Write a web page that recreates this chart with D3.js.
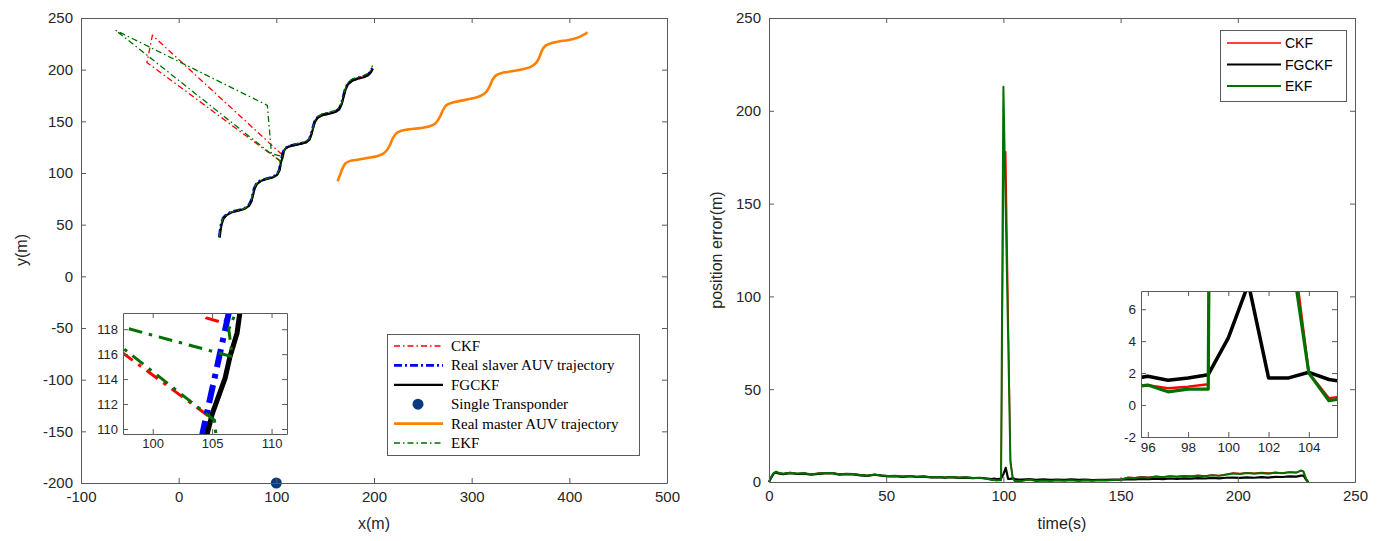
<!DOCTYPE html>
<html><head><meta charset="utf-8">
<script src="https://cdn.jsdelivr.net/npm/d3@7"></script>
<style>
body{margin:0;background:#fff;}
svg{display:block;}
</style></head>
<body>
<svg id="c" width="1391" height="541"></svg>
<script>
// ---------------- Left chart data (x(m), y(m)) ----------------
const realSlave = [[41.5,38],[42.3,44],[43.5,51],[45.5,56.5],[49,60],[54,62.5],[61,64],[67,65.5],[71.5,68.5],[74,73],[75.7,79],[77.2,85],[79.5,89.5],[83.5,92.5],[89.5,94.5],[96,96],[100.5,98.5],[103,103],[104.2,109.7],[105.3,114.5],[106.4,119.3],[108.2,123],[111.5,125.5],[117,127],[124,128.3],[130,129.8],[133.5,132.5],[135.6,137.5],[137.2,143.5],[139,149.5],[142,153.8],[147,156.3],[154,157.8],[160,159.3],[164,162],[166.5,167],[168.3,173.5],[170.2,180.5],[172.8,186],[177,189.5],[183,191.5],[189,193],[193.5,195],[196.5,198],[198.3,201.5]];
const fgckfPath = [[42,37.5],[42.8,44],[44,50.5],[46,56],[49.5,59.5],[54.5,62],[61,63.6],[67.5,65.2],[72,68.2],[74.6,72.8],[76.2,78.8],[77.8,85],[80,89.2],[84,92.2],[90,94.2],[96.5,95.8],[101,98.3],[103.4,102.8],[104.3,108.5],[105.0,111.2],[106.1,114.1],[106.5,115.8],[107.1,117.7],[107.5,120.5],[109,123.3],[112,125.2],[117.5,126.8],[124.5,128.2],[130.5,129.6],[134,132.3],[136,137.3],[137.6,143.3],[139.4,149.3],[142.5,153.5],[147.5,156],[154.5,157.5],[160.5,159],[164.5,161.7],[167,166.8],[168.8,173.3],[170.7,180.3],[173.3,185.8],[177.5,189.2],[183.5,191.2],[189.5,192.7],[194,194.6],[197,197.6],[198.8,201]];
const ckfPath = [[41.8,38.5],[42.6,44.5],[43.8,51],[45.8,56.3],[49.3,59.8],[54.3,62.3],[61,64],[67.3,65.6],[71.8,68.6],[74.3,73.2],[76,79],[77.5,85.2],[79.8,89.6],[83.8,92.6],[89.8,94.6],[96.3,96.2],[100.8,98.7],[103.3,103.2],[104.9,110.9],[-32.5,207],[-26.9,233.3],[104.5,118.9],[106.0,118.5],[106.4,119.3],[108.6,123.5],[111.8,125.9],[117.3,127.5],[124.3,128.9],[130.3,130.4],[133.8,133.2],[135.9,138.2],[137.5,144.2],[139.3,150.2],[142.3,154.5],[147.3,157],[154.3,158.6],[160.3,160.1],[164.3,162.8],[166.8,167.8],[168.6,174.3],[170.5,181.3],[173.1,186.8],[177.3,190.3],[183.3,192.3],[189.3,193.8],[193.8,195.8],[196.8,198.8],[198.6,202.3]];
const ekfPath = [[41.4,38.2],[42.2,44.2],[43.4,50.7],[45.4,56.2],[48.9,59.7],[54,62.3],[60.8,63.8],[66.8,65.3],[71.3,68.3],[73.9,72.9],[75.6,78.9],[77.1,85.1],[79.4,89.4],[83.3,92.4],[89.3,94.4],[95.8,96],[100.3,98.5],[102.9,102.9],[105.4,108.8],[105.2,110.7],[-64.5,238.1],[90.8,165.5],[95,118.8],[106.7,115.8],[106.4,118],[107.1,119.6],[108.8,123.6],[112,126.1],[117.5,127.7],[124.5,129.1],[130.5,130.7],[134,133.5],[136.1,138.6],[137.7,144.7],[139.5,150.7],[142.5,155],[147.5,157.5],[154.5,159],[160.5,160.6],[164.5,163.3],[167,168.3],[168.8,175],[170.7,182],[173.3,187.5],[177.5,191],[183.5,193],[189.5,194.5],[194,196.5],[197,199.5],[198.5,204]];
const realMaster = [[162.7,92],[165,97.5],[167.5,104],[170.9,109.4],[175,111.5],[179.1,112.3],[193,114.5],[203,116.3],[209,118.5],[213,121.8],[216.5,127.5],[219.5,134],[223,138.5],[228,140.8],[234,142],[248,143.6],[257,145.3],[263,148.2],[267,153.5],[270.5,160.5],[274,165.5],[280,168],[286,169.3],[300,172],[309,174.5],[314.5,178],[318.5,184],[321.5,190.5],[325,194.5],[331,196.8],[337,197.8],[352,200.5],[360,202.5],[366,206.5],[369.5,212.5],[372.5,219.5],[376,223.5],[382,225.8],[388,227],[403,229.5],[410,231.5],[415,233.8],[418.6,236.2]];
const transponder = [[100,-200]];
const leftXTicks = [-100,0,100,200,300,400,500];
const leftYTicks = [-200,-150,-100,-50,0,50,100,150,200,250];
const insetLXTicks = [100,105,110];
const insetLYTicks = [110,112,114,116,118];
const leftLegend = ["CKF","Real slaver AUV trajectory","FGCKF","Single Transponder","Real master AUV trajectory","EKF"];

// ---------------- Right chart data (time(s), error(m)) ----------------
const times = [0,1,2,3,4,6,9,12,15,18,21,24,27,30,33,36,39,42,45,48,51,54,57,60,63,66,69,72,75,78,81,84,87,90,93,95,96,97,98,99,100,101,102,103,104,105,106,108,111,114,117,120,123,126,129,132,135,138,141,144,147,150,153,156,159,162,165,168,171,174,177,180,183,186,189,192,195,198,201,204,207,210,213,216,219,222,225,227,228,229,230];
const ckfErr = [0,2.7,4.7,5.5,5.0,4.5,5.1,4.5,4.8,4.1,4.7,4.8,4.9,4.3,4.5,4.2,3.9,3.5,4.1,3.6,3.3,3.3,3.0,3.3,2.9,3.1,2.7,2.8,2.5,2.6,2.4,2.6,2.2,2.3,1.8,1.14,1.25,1.05,1.15,1.3,160,178,95,12,2.0,0.43,0.6,0.7,1.4,0.6,0.9,0.7,1.0,0.8,1.1,0.7,1.0,0.8,1.1,0.9,1.2,1.3,2.5,2.3,2.8,2.5,3.1,2.7,3.3,3.0,3.4,3.2,3.6,3.3,3.8,3.5,4.2,4.9,4.6,5.0,4.7,5.1,4.8,5.2,4.9,5.4,5.2,6.0,5.8,2.2,0];
const fgckfErr = [0,2.5,4.5,5.2,4.6,4.2,4.8,4.3,4.5,3.9,4.4,4.6,4.7,4.0,4.2,4.1,3.6,3.3,3.9,3.4,3.0,3.2,2.8,3.1,2.7,2.9,2.5,2.6,2.3,2.6,2.2,2.4,2.1,2.3,1.9,1.6,1.8,1.55,1.7,1.9,4.2,7.6,1.7,1.7,2.05,1.6,1.4,1.3,1.6,1.2,1.4,1.1,1.3,1.2,1.4,1.1,1.3,1.0,1.2,1.1,1.3,1.3,1.6,1.4,1.7,1.5,1.8,1.6,1.9,1.7,2.0,1.8,2.1,1.9,2.2,2.0,2.3,2.4,2.2,2.5,2.3,2.6,2.4,2.8,2.7,3.0,2.9,3.4,3.5,1.5,0];
const ekfErr = [0,2.8,4.8,5.6,5.0,4.4,5.0,4.6,4.7,4.2,4.6,4.9,4.8,4.2,4.4,4.3,3.8,3.4,4.0,3.5,3.2,3.4,2.9,3.2,2.8,3.0,2.6,2.7,2.4,2.7,2.3,2.5,2.1,2.2,1.7,1.1,1.25,0.83,1.0,1.0,213,146,79,10.6,2.0,0.27,0.5,0.6,1.3,0.5,0.8,0.6,0.9,0.7,1.0,0.6,0.9,0.7,1.0,0.8,1.1,1.2,2.3,2.1,2.6,2.3,2.9,2.5,3.1,2.8,3.2,3.0,3.4,3.1,3.6,3.3,3.9,4.6,4.3,4.8,4.4,4.9,4.5,5.0,4.7,5.2,5.0,6.2,5.6,2.0,0];
const rightXTicks = [0,50,100,150,200,250];
const rightYTicks = [0,50,100,150,200,250];
const insetRXTicks = [96,98,100,102,104];
const insetRYTicks = [-2,0,2,4,6];
const rightLegend = ["CKF","FGCKF","EKF"];

// ---------------- Styles ----------------
const C_RED = "#ff0000", C_BLUE = "#0000ff", C_BLACK = "#000000", C_GREEN = "#007000", C_ORANGE = "#ff8000", C_NAVY = "#0b3a7e";
const AXC = "#5a5a5a", TXC = "#262626";
const SANS = "'Liberation Sans', Arial, sans-serif";
const SERIF = "'Liberation Serif', 'Times New Roman', serif";

const svg = d3.select("#c");

function drawBox(g, x, y, xt, yt, fs, labels){
  const fmt = d => String(d);
  const tl = 5;
  const gx = g.append("g").attr("transform",`translate(0,${y.range()[0]})`)
    .call(d3.axisBottom(x).tickValues(xt).tickSizeInner(-tl).tickSizeOuter(0).tickPadding(labels.xpad).tickFormat(fmt));
  const gt = g.append("g").attr("transform",`translate(0,${y.range()[1]})`)
    .call(d3.axisTop(x).tickValues(xt).tickSizeInner(-tl).tickSizeOuter(0).tickFormat(""));
  const gy = g.append("g").attr("transform",`translate(${x.range()[0]},0)`)
    .call(d3.axisLeft(y).tickValues(yt).tickSizeInner(-tl).tickSizeOuter(0).tickPadding(labels.ypad).tickFormat(fmt));
  const gr = g.append("g").attr("transform",`translate(${x.range()[1]},0)`)
    .call(d3.axisRight(y).tickValues(yt).tickSizeInner(-tl).tickSizeOuter(0).tickFormat(""));
  [gx,gt,gy,gr].forEach(a=>{
    a.selectAll("path.domain").attr("stroke",AXC).attr("stroke-width",1);
    a.selectAll(".tick line").attr("stroke",AXC).attr("stroke-width",1);
    a.selectAll(".tick text").attr("fill",TXC).style("font-family",SANS).style("font-size",fs+"px");
  });
}

// ================= LEFT CHART =================
const lx = d3.scaleLinear().domain([-100,500]).range([81,667]);
const ly = d3.scaleLinear().domain([-200,250]).range([483,18]);
const L = svg.append("g");
L.append("rect").attr("x",81).attr("y",18).attr("width",586).attr("height",465).attr("fill","#fff");

function drawTraj(g, x, y, scaleW){
  const line = d3.line().x(d=>x(d[0])).y(d=>y(d[1]));
  const smooth = d3.line().x(d=>x(d[0])).y(d=>y(d[1])).curve(d3.curveCatmullRom.alpha(0.5));
  g.append("path").datum(ckfPath).attr("d",line).attr("fill","none").attr("stroke",C_RED)
    .attr("stroke-width",1.3*scaleW).attr("stroke-dasharray",`${6*scaleW},${3*scaleW},${1.5*scaleW},${3*scaleW}`);
  g.append("path").datum(realSlave).attr("d",line).attr("fill","none").attr("stroke",C_BLUE)
    .attr("stroke-width",2.6*scaleW).attr("stroke-dasharray",`${8*scaleW},${3*scaleW},${2*scaleW},${3*scaleW}`);
  g.append("path").datum(fgckfPath).attr("d",line).attr("fill","none").attr("stroke",C_BLACK)
    .attr("stroke-width",2.2*scaleW).attr("stroke-linejoin","round");
  g.selectAll(null).data(transponder).enter().append("circle")
    .attr("cx",d=>x(d[0])).attr("cy",d=>y(d[1])).attr("r",5.5).attr("fill",C_NAVY);
  g.append("path").datum(realMaster).attr("d",smooth).attr("fill","none").attr("stroke",C_ORANGE)
    .attr("stroke-width",2.6*scaleW);
  g.append("path").datum(ekfPath).attr("d",line).attr("fill","none").attr("stroke",C_GREEN)
    .attr("stroke-width",1.3*scaleW).attr("stroke-dasharray",`${6*scaleW},${3*scaleW},${1.5*scaleW},${3*scaleW}`);
}
drawTraj(L, lx, ly, 1);
drawBox(L, lx, ly, leftXTicks, leftYTicks, 15, {xpad:8, ypad:8});
L.append("text").attr("x",374).attr("y",529).attr("text-anchor","middle").attr("fill",TXC)
  .style("font-family",SANS).style("font-size","16px").text("x(m)");
L.append("text").attr("transform","translate(27,250) rotate(-90)").attr("text-anchor","middle").attr("fill",TXC)
  .style("font-family",SANS).style("font-size","16px").text("y(m)");

// left inset
const ilx = d3.scaleLinear().domain([97.5,111.3]).range([123,287]);
const ily = d3.scaleLinear().domain([109.6,119.3]).range([434,313]);
const LI = svg.append("g");
LI.append("rect").attr("x",123).attr("y",313).attr("width",164).attr("height",121).attr("fill","#fff");
svg.append("defs").append("clipPath").attr("id","clipL").append("rect")
  .attr("x",123).attr("y",313).attr("width",164).attr("height",121);
const LIdata = LI.append("g").attr("clip-path","url(#clipL)");
drawTraj(LIdata, ilx, ily, 2.3);
drawBox(LI, ilx, ily, insetLXTicks, insetLYTicks, 13, {xpad:5, ypad:5});

// left legend
const LG = svg.append("g");
LG.append("rect").attr("x",387.5).attr("y",334.5).attr("width",252).attr("height",121)
  .attr("fill","#fff").attr("stroke",AXC).attr("stroke-width",1);
const lgStyles = [
  {c:C_RED,w:1.3,d:"6,3,1.5,3"},
  {c:C_BLUE,w:2.6,d:"8,3,2,3"},
  {c:C_BLACK,w:2.2,d:null},
  {c:C_NAVY,marker:true},
  {c:C_ORANGE,w:2.6,d:null},
  {c:C_GREEN,w:1.3,d:"6,3,1.5,3"}
];
leftLegend.forEach((t,i)=>{
  const yy = 346 + i*19.4;
  const s = lgStyles[i];
  if(s.marker){
    LG.append("circle").attr("cx",418).attr("cy",yy).attr("r",5.5).attr("fill",s.c);
  } else {
    LG.append("line").attr("x1",394).attr("x2",443).attr("y1",yy).attr("y2",yy)
      .attr("stroke",s.c).attr("stroke-width",s.w).attr("stroke-dasharray",s.d);
  }
  LG.append("text").attr("x",451).attr("y",yy+5).attr("fill","#000")
    .style("font-family",SERIF).style("font-size","15px").text(t);
});

// ================= RIGHT CHART =================
const rx = d3.scaleLinear().domain([0,250]).range([769,1355]);
const ry = d3.scaleLinear().domain([0,250]).range([482,18]);
const R = svg.append("g");
const series = [
  {v:ckfErr,c:C_RED,w:1.5},
  {v:fgckfErr,c:C_BLACK,w:2.2},
  {v:ekfErr,c:C_GREEN,w:2.0}
];
function drawErr(g, x, y, k){
  series.forEach(s=>{
    const line = d3.line().x((d,i)=>x(times[i])).y(d=>y(d));
    g.append("path").datum(s.v).attr("d",line).attr("fill","none").attr("stroke",s.c)
      .attr("stroke-width",s.w*k).attr("stroke-linejoin","round");
  });
}
drawErr(R, rx, ry, 1);
drawBox(R, rx, ry, rightXTicks, rightYTicks, 15, {xpad:8, ypad:8});
R.append("text").attr("x",1062).attr("y",529).attr("text-anchor","middle").attr("fill",TXC)
  .style("font-family",SANS).style("font-size","16px").text("time(s)");
R.append("text").attr("transform","translate(722,250) rotate(-90)").attr("text-anchor","middle").attr("fill",TXC)
  .style("font-family",SANS).style("font-size","16px").text("position error(m)");

// right inset
const irx = d3.scaleLinear().domain([95.66,105.4]).range([1141,1337]);
const iry = d3.scaleLinear().domain([-2,7.14]).range([437,291]);
const RI = svg.append("g");
RI.append("rect").attr("x",1141).attr("y",291).attr("width",196).attr("height",146).attr("fill","#fff");
svg.select("defs").append("clipPath").attr("id","clipR").append("rect")
  .attr("x",1141).attr("y",291).attr("width",196).attr("height",146);
const RIdata = RI.append("g").attr("clip-path","url(#clipR)");
drawErr(RIdata, irx, iry, 1.6);
drawBox(RI, irx, iry, insetRXTicks, insetRYTicks, 13.5, {xpad:5, ypad:5});

// right legend
const RG = svg.append("g");
RG.append("rect").attr("x",1220.5).attr("y",30.5).attr("width",126).attr("height",71)
  .attr("fill","#fff").attr("stroke",AXC).attr("stroke-width",1);
rightLegend.forEach((t,i)=>{
  const yy = 43 + i*21.5;
  const s = series[i];
  RG.append("line").attr("x1",1227).attr("x2",1281).attr("y1",yy).attr("y2",yy)
    .attr("stroke",s.c).attr("stroke-width",s.w);
  RG.append("text").attr("x",1285).attr("y",yy+5).attr("fill","#000")
    .style("font-family",SANS).style("font-size","14px").text(t);
});
</script>
</body></html>
